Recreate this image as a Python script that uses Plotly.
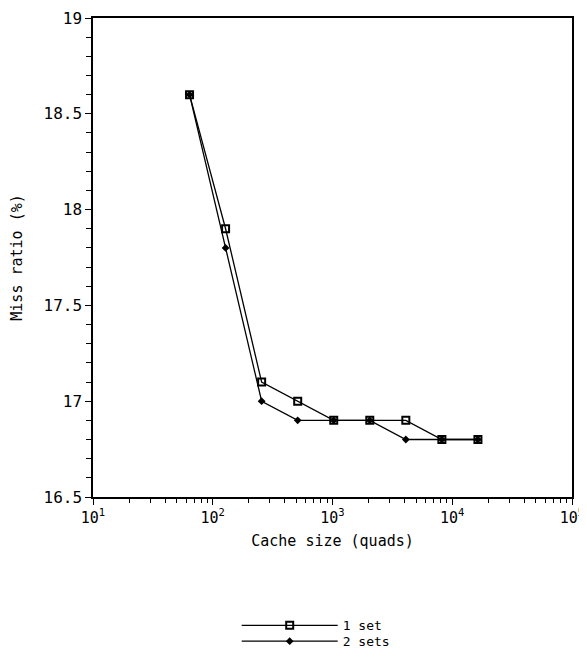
# Plotting libraries
import plotly.graph_objects as go

# Data
cache_size = [64, 128, 256, 512, 1024, 2048, 4096, 8192, 16384]
miss_1_set = [18.6, 17.9, 17.1, 17.0, 16.9, 16.9, 16.9, 16.8, 16.8]
miss_2_sets = [18.6, 17.8, 17.0, 16.9, 16.9, 16.9, 16.8, 16.8, 16.8]

x_tickvals = [10, 100, 1000, 10000, 100000]
x_ticktext = ['10<sup>1</sup>', '10<sup>2</sup>', '10<sup>3</sup>', '10<sup>4</sup>', '10<sup>5</sup>']
y_tickvals = [16.5, 17, 17.5, 18, 18.5, 19]
y_ticktext = ['16.5', '17', '17.5', '18', '18.5', '19']

# minor tick positions (2..9 per decade, tenths on y)
x_minor = [m * 10 ** k for k in range(1, 5) for m in range(2, 10)]
y_minor = [round(16.5 + 0.1 * i, 1) for i in range(26)]

FONT = 'DejaVu Sans Mono'

fig = go.Figure()

fig.add_trace(
    go.Scatter(
        x=cache_size,
        y=miss_1_set,
        mode='lines+markers',
        name='1 set',
        legend='legend',
        line=dict(color='black', width=1.3),
        marker=dict(symbol='square-open', size=7, color='black', line=dict(width=2))
    )
)
fig.add_trace(
    go.Scatter(
        x=cache_size,
        y=miss_2_sets,
        mode='lines+markers',
        name='2 sets',
        legend='legend2',
        line=dict(color='black', width=1.3),
        marker=dict(symbol='diamond', size=6, color='black')
    )
)

fig.update_xaxes(
    type='log',
    range=[1, 5],
    tickmode='array',
    tickvals=x_tickvals,
    ticktext=x_ticktext,
    ticks='outside',
    ticklen=6,
    tickcolor='black',
    ticklabeloverflow='allow',
    minor=dict(tickmode='array', tickvals=x_minor, ticks='outside', ticklen=4,
               tickcolor='black', showgrid=False),
    showline=True,
    linecolor='black',
    linewidth=1.5,
    mirror=True,
    showgrid=False,
    zeroline=False,
    automargin=False,
    title=dict(text='Cache size (quads)', standoff=10, font=dict(size=15)),
    tickfont=dict(family=FONT, size=15, color='black')
)
fig.update_yaxes(
    range=[16.5, 19],
    tickmode='array',
    tickvals=y_tickvals,
    ticktext=y_ticktext,
    ticks='outside',
    ticklen=6,
    tickcolor='black',
    minor=dict(tickmode='array', tickvals=y_minor, ticks='outside', ticklen=5,
               tickcolor='black', showgrid=False),
    showline=True,
    linecolor='black',
    linewidth=1.5,
    mirror=True,
    showgrid=False,
    zeroline=False,
    automargin=False,
    title=dict(text='Miss ratio (%)', standoff=26, font=dict(size=15)),
    tickfont=dict(family=FONT, size=16, color='black')
)

legend_style = dict(
    x=0.3,
    xanchor='left',
    yanchor='middle',
    itemwidth=96,
    bgcolor='rgba(0,0,0,0)',
    font=dict(family=FONT, size=13, color='black')
)

fig.update_layout(
    width=579,
    height=642,
    margin=dict(l=85, r=15, t=10, b=153, autoexpand=False),
    template='none',
    plot_bgcolor='white',
    paper_bgcolor='white',
    font=dict(family=FONT, size=15, color='black'),
    legend=dict(y=-0.268, **legend_style),
    legend2=dict(y=-0.301, **legend_style),
    showlegend=True
)

fig.write_html('out.html')
